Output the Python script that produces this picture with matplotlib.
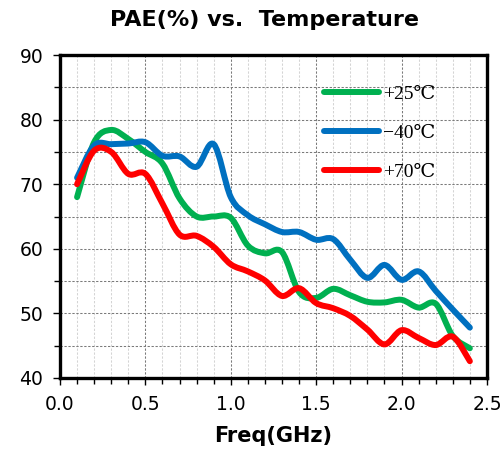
import numpy as np
import matplotlib
matplotlib.use("Agg")
import matplotlib.pyplot as plt
from matplotlib.path import Path
from matplotlib.patches import PathPatch
from matplotlib.lines import Line2D
from matplotlib.ticker import MultipleLocator

freq = [0.1, 0.2, 0.3, 0.4, 0.5, 0.6, 0.7, 0.8, 0.9, 1.0, 1.1, 1.2,
        1.3, 1.4, 1.5, 1.6, 1.7, 1.8, 1.9, 2.0, 2.1, 2.2, 2.3, 2.4]

pae_p25 = [68.0, 76.5, 78.4, 77.0, 75.0, 73.2, 67.8, 65.0, 65.0, 64.8, 60.5, 59.3,
           59.5, 53.3, 52.4, 53.8, 52.8, 51.8, 51.7, 52.1, 50.9, 51.5, 46.5, 44.6]
pae_m40 = [71.0, 76.0, 76.2, 76.3, 76.5, 74.4, 74.3, 72.7, 76.2, 68.0, 65.2, 63.8,
           62.6, 62.6, 61.4, 61.5, 58.3, 55.5, 57.5, 55.2, 56.5, 53.5, 50.6, 47.8]
pae_p70 = [70.0, 75.2, 75.0, 71.6, 71.6, 67.0, 62.2, 62.0, 60.3, 57.6, 56.5, 55.1,
           52.7, 53.9, 51.6, 50.8, 49.6, 47.5, 45.2, 47.4, 46.2, 45.1, 46.4, 42.6]

series_labels = ["+25\u2103", "\u221240\u2103", "+70\u2103"]
series_colors = ["#00B050", "#0070C0", "#FF0000"]

x_ticks = [0.0, 0.5, 1.0, 1.5, 2.0, 2.5]
y_ticks = [40, 50, 60, 70, 80, 90]


def smooth_path(xs, ys):
    """Cubic Bezier path through the points (Catmull-Rom style smoothing)."""
    p = np.column_stack([xs, ys]).astype(float)
    n = len(p)
    verts = [p[0]]
    codes = [Path.MOVETO]
    for i in range(n - 1):
        p0 = p[i - 1] if i > 0 else p[i]
        p1 = p[i]
        p2 = p[i + 1]
        p3 = p[i + 2] if i + 2 < n else p[i + 1]
        c1 = p1 + (p2 - p0) / 6.0
        c2 = p2 - (p3 - p1) / 6.0
        verts += [c1, c2, p2]
        codes += [Path.CURVE4] * 3
    return Path(verts, codes)


fig = plt.figure(figsize=(5.02, 4.57), dpi=100)
ax = fig.add_axes([0.1195, 0.1729, 0.8505, 0.7067])

ax.set_xlim(0, 2.5)
ax.set_ylim(40, 90)

# grid
ax.xaxis.set_major_locator(MultipleLocator(0.5))
ax.xaxis.set_minor_locator(MultipleLocator(0.1))
ax.yaxis.set_major_locator(MultipleLocator(10))
ax.yaxis.set_minor_locator(MultipleLocator(5))
dash = (0, (2.2, 1.6))
ax.grid(which="major", axis="both", color="#7a7a7a", linestyle=dash, linewidth=0.75)
ax.grid(which="minor", axis="y", color="#7a7a7a", linestyle=dash, linewidth=0.75)
ax.grid(which="minor", axis="x", color="#d4d4d4", linestyle=dash, linewidth=0.75)
ax.set_axisbelow(True)

for ys, col in zip([pae_p25, pae_m40, pae_p70], series_colors):
    patch = PathPatch(smooth_path(freq, ys), facecolor="none", edgecolor=col,
                      linewidth=4.3, capstyle="round", joinstyle="round", zorder=3)
    ax.add_patch(patch)

for sp in ax.spines.values():
    sp.set_linewidth(2.4)
    sp.set_color("black")

ax.tick_params(which="both", direction="out", color="black")
ax.tick_params(which="major", length=5, width=1.0, labelsize=13.5, pad=7)
ax.tick_params(which="minor", length=4, width=1.0)
ax.set_xticks(x_ticks)
ax.set_xticklabels([f"{v:.1f}" for v in x_ticks])
ax.set_yticks(y_ticks)
ax.set_yticklabels([str(v) for v in y_ticks])

ax.set_xlabel("Freq(GHz)", fontsize=15, fontweight="bold", labelpad=9)
fig.text(0.526, 0.957, "PAE(%) vs.  Temperature", fontsize=16, fontweight="bold",
         ha="center", va="center")

handles = [Line2D([], [], color=c, linewidth=4.3, solid_capstyle="round") for c in series_colors]
leg = ax.legend(handles, series_labels, loc="upper left", bbox_to_anchor=(0.578, 0.96),
                frameon=False, handlelength=2.8, handletextpad=0.2, labelspacing=1.1,
                prop={"family": ["Liberation Serif", "DejaVu Serif"], "size": 14})

fig.savefig("out.png", dpi=100)
